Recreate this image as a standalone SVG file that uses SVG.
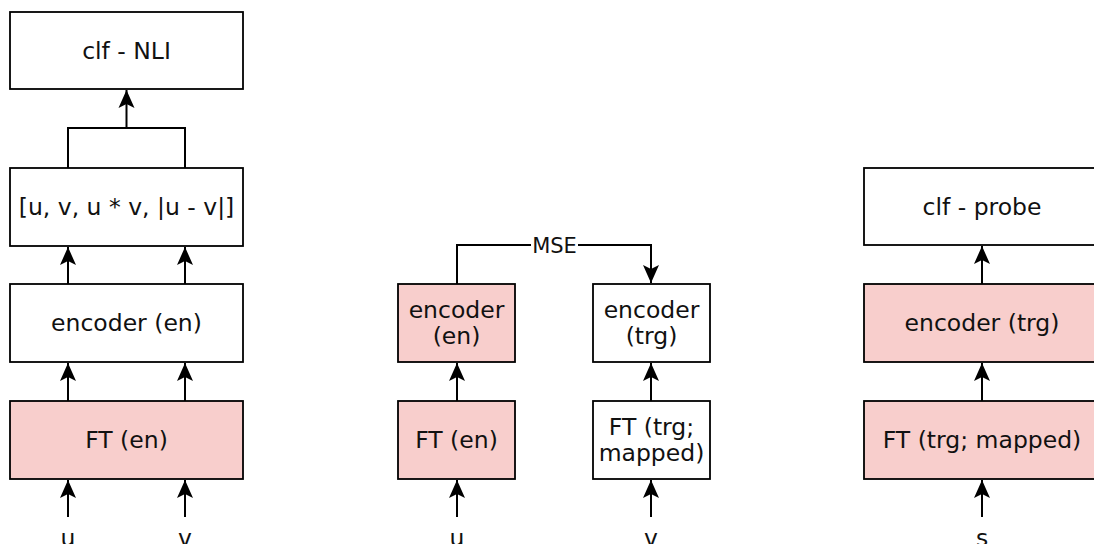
<svg xmlns="http://www.w3.org/2000/svg" width="1094" height="544" viewBox="0 0 1094 544">
<style>
.box{fill:#ffffff;stroke:#000000;stroke-width:1.8}
.pink{fill:#f8cecc;stroke:#000000;stroke-width:1.8}
text{font-family:"DejaVu Sans","Liberation Sans",sans-serif;font-size:23.5px;fill:#111111;text-anchor:middle}
.edge{fill:none;stroke:#000000;stroke-width:2}
.arr{marker-end:url(#ah)}
</style>
<defs>
<marker id="ah" markerUnits="userSpaceOnUse" markerWidth="20" markerHeight="18" viewBox="0 0 20 18" refX="19" refY="9" orient="auto">
<path d="M1,1 L19,9 L1,17 L5,9 Z" fill="#000000"/>
</marker>
</defs>
<rect width="1094" height="544" fill="#ffffff"/>
<g id="connectors">
<path class="edge arr" d="M68,517 V480"/>
<path class="edge arr" d="M185,517 V480"/>
<path class="edge arr" d="M68,401 V363"/>
<path class="edge arr" d="M185,401 V363"/>
<path class="edge arr" d="M68,284 V247"/>
<path class="edge arr" d="M185,284 V247"/>
<path class="edge" d="M68,168 V128 H185 V168"/>
<path class="edge arr" d="M126.5,128 V90"/>
<path class="edge arr" d="M457,517 V480"/>
<path class="edge arr" d="M457,401 V363"/>
<path class="edge arr" d="M651,517 V480"/>
<path class="edge arr" d="M651,401 V363"/>
<path class="edge arr" d="M457,284 V245 H651 V283"/>
<rect x="531" y="235" width="47" height="21" fill="#ffffff"/>
<text x="554.5" y="253" style="font-size:21px">MSE</text>
<path class="edge arr" d="M982,517 V480"/>
<path class="edge arr" d="M982,401 V363"/>
<path class="edge arr" d="M982,284 V246"/>
</g>
<g id="clf-nli"><rect class="box" x="10" y="12" width="233" height="77"/><text x="126.5" y="59">clf - NLI</text></g>
<g id="concat"><rect class="box" x="10" y="168" width="233" height="78"/><text x="126.5" y="215">[u, v, u * v, |u - v|]</text></g>
<g id="encoder-en-left"><rect class="box" x="10" y="284" width="233" height="78"/><text x="126.5" y="331">encoder (en)</text></g>
<g id="ft-en-left"><rect class="pink" x="10" y="401" width="233" height="78"/><text x="126.5" y="448">FT (en)</text></g>
<g id="label-u-left"><text x="68" y="546">u</text></g>
<g id="label-v-left"><text x="185" y="546">v</text></g>
<g id="encoder-en-mid"><rect class="pink" x="398" y="284" width="117" height="78"/><text x="456.5" y="318">encoder</text><text x="456.5" y="344">(en)</text></g>
<g id="ft-en-mid"><rect class="pink" x="398" y="401" width="117" height="78"/><text x="456.5" y="448">FT (en)</text></g>
<g id="encoder-trg-mid"><rect class="box" x="593" y="284" width="117" height="78"/><text x="651.5" y="318">encoder</text><text x="651.5" y="344">(trg)</text></g>
<g id="ft-trg-mid"><rect class="box" x="593" y="401" width="117" height="78"/><text x="651.5" y="435">FT (trg;</text><text x="651.5" y="461">mapped)</text></g>
<g id="label-u-mid"><text x="457" y="546">u</text></g>
<g id="label-v-mid"><text x="651" y="546">v</text></g>
<g id="clf-probe"><rect class="box" x="864" y="168" width="236" height="77"/><text x="982" y="215">clf - probe</text></g>
<g id="encoder-trg-right"><rect class="pink" x="864" y="284" width="236" height="78"/><text x="982" y="331">encoder (trg)</text></g>
<g id="ft-trg-right"><rect class="pink" x="864" y="401" width="236" height="78"/><text x="982" y="448">FT (trg; mapped)</text></g>
<g id="label-s"><text x="982" y="546">s</text></g>
</svg>
